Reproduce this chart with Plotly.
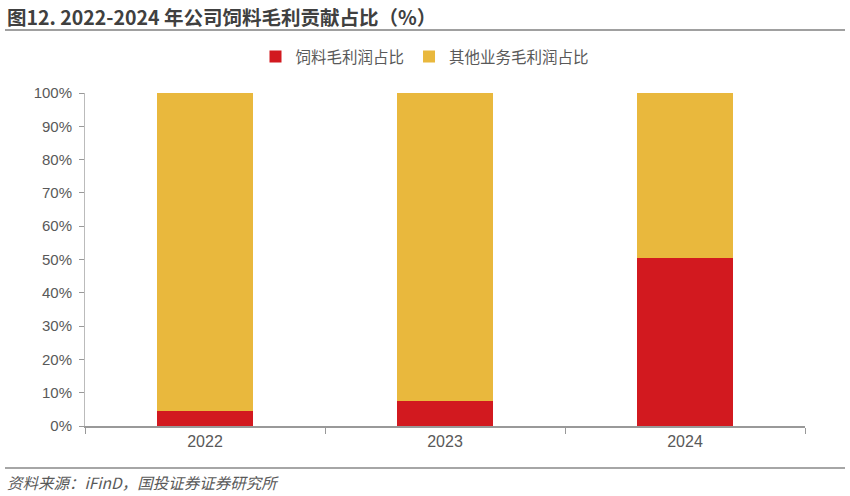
import plotly.graph_objects as go

years = ["2022", "2023", "2024"]
feed_share = [4.5, 7.5, 50.6]
other_share = [95.5, 92.5, 49.4]
series_names = ["饲料毛利润占比", "其他业务毛利润占比"]
y_ticks = [0, 10, 20, 30, 40, 50, 60, 70, 80, 90, 100]
y_labels = [f"{v}%" for v in y_ticks]

CJK = "Noto Sans CJK SC, Noto Sans, sans-serif"
LATIN = "Liberation Sans, Arial, sans-serif"
GREY = "#595959"

# paper area: top at 40px, bottom (x axis) at 426px
W, H = 850, 496
T, B, L, R = 40, 70, 85, 45
PH = H - T - B
PW = W - L - R


def py(px):
    return (H - B - px) / PH


def pxx(px):
    return (px - L) / PW


fig = go.Figure()
fig.add_trace(go.Bar(x=years, y=feed_share, name=series_names[0],
                     marker=dict(color="#D2191F", line=dict(width=0))))
fig.add_trace(go.Bar(x=years, y=other_share, name=series_names[1],
                     marker=dict(color="#E9B83D", line=dict(width=0))))

fig.update_layout(
    width=W, height=H,
    barmode="stack", bargap=0.6,
    paper_bgcolor="white", plot_bgcolor="white",
    margin=dict(l=L, r=R, t=T, b=B),
    font=dict(family=CJK, size=14, color=GREY),
    showlegend=True,
    legend=dict(orientation="h", x=pxx(425), xanchor="center", y=py(57), yanchor="middle",
                font=dict(size=15.5, color=GREY, family=CJK),
                traceorder="normal", itemwidth=30, bgcolor="rgba(0,0,0,0)"),
)

fig.update_xaxes(showline=True, linecolor="#999999", linewidth=1.5,
                 ticks="outside", ticklen=6, tickcolor="#999999",
                 tickson="boundaries", showgrid=False,
                 tickfont=dict(size=16, color=GREY, family=LATIN))
fig.update_yaxes(range=[0, 100], domain=[0, 333 / PH],
                 tickmode="array", tickvals=y_ticks, ticktext=y_labels,
                 showline=True, linecolor="#bbbbbb", linewidth=1,
                 ticks="outside", ticklen=5, tickcolor="#999999",
                 ticklabelstandoff=4,
                 showgrid=False, zeroline=False,
                 tickfont=dict(size=15, color=GREY, family=LATIN))

fig.add_annotation(text="<b>图12. 2022-2024 年公司饲料毛利贡献占比（%）</b>",
                   xref="paper", yref="paper", x=pxx(5), y=py(16),
                   xanchor="left", yanchor="middle", showarrow=False,
                   font=dict(size=19.5, color="#404040", family=CJK))
fig.add_annotation(text="<i>资料来源：iFinD，国投证券证券研究所</i>",
                   xref="paper", yref="paper", x=pxx(5), y=py(482),
                   xanchor="left", yanchor="middle", showarrow=False,
                   font=dict(size=15.5, color=GREY, family=CJK))
fig.add_shape(type="line", xref="paper", yref="paper",
              x0=pxx(5), x1=pxx(845), y0=py(30), y1=py(30),
              line=dict(color="#808080", width=1.5))
fig.add_shape(type="line", xref="paper", yref="paper",
              x0=pxx(5), x1=pxx(845), y0=py(468), y1=py(468),
              line=dict(color="#A6A6A6", width=2))

# drop the browser's default 8px body margin so the figure sits at the page corner
fig.write_html("out.html", config={"displayModeBar": False},
               post_script="document.body.style.margin='0';")
